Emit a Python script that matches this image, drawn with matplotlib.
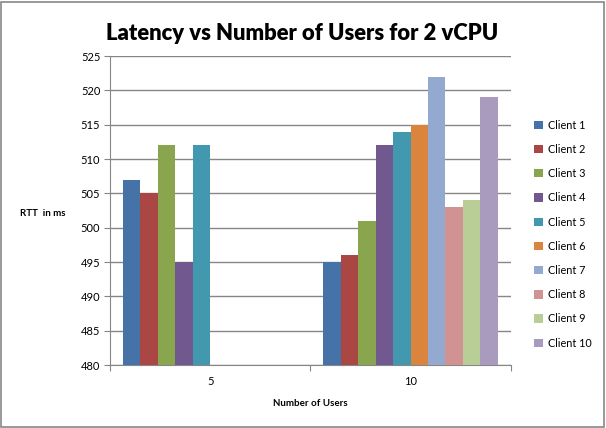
import numpy as np
import matplotlib
matplotlib.use("Agg")
import matplotlib.pyplot as plt
from matplotlib.patches import Rectangle, Patch

categories = ["5", "10"]
clients = [f"Client {i}" for i in range(1, 11)]
values = {
    "Client 1": [507, 495],
    "Client 2": [505, 496],
    "Client 3": [512, 501],
    "Client 4": [495, 512],
    "Client 5": [512, 514],
    "Client 6": [np.nan, 515],
    "Client 7": [np.nan, 522],
    "Client 8": [np.nan, 503],
    "Client 9": [np.nan, 504],
    "Client 10": [np.nan, 519],
}
colors = ["#4572A7", "#AA4643", "#89A54E", "#71588F", "#4198AF",
          "#DB843D", "#93A9CF", "#D19392", "#B9CD96", "#A99BBD"]

font = "Lato"
fig = plt.figure(figsize=(6.06, 4.28), dpi=100)
fig.patches.append(Rectangle((0.002, 0.002), 0.995, 0.994, transform=fig.transFigure,
                             fill=False, edgecolor="#888888", linewidth=1.2))
ax = fig.add_axes([0.1815, 0.147, 0.6615, 0.722])

x = np.arange(len(categories))
w = 1 / 11.5
for i, c in enumerate(clients):
    ax.bar(x + (i - 4.5) * w, values[c], width=w, bottom=0, color=colors[i],
           label=c, zorder=3, linewidth=0)

ax.set_ylim(480, 525)
ax.set_xlim(-0.5, 1.5)
ax.set_yticks(np.arange(480, 526, 5))
ax.set_xticks([-0.5, 0.5, 1.5], minor=False)
ax.set_xticklabels([])
ax.set_xticks(x, minor=True)
ax.set_xticklabels(categories, minor=True, fontsize=8, family=font)
ax.tick_params(axis="x", which="minor", length=0, pad=8)
ax.tick_params(axis="x", which="major", length=4, color="#868686", direction="out")
ax.tick_params(axis="y", length=4, color="#868686", labelsize=8, pad=3)
for lab in ax.get_yticklabels():
    lab.set_family(font)
ax.grid(axis="y", color="#868686", linewidth=1, zorder=0)
for s in ["top", "right"]:
    ax.spines[s].set_visible(False)
ax.spines["left"].set_color("#868686")
ax.spines["bottom"].set_color("#868686")

fig.text(0.4985, 0.922, "Latency vs Number of Users for 2 vCPU", ha="center", va="center",
         fontsize=15.8, fontweight="heavy", family=font)
fig.text(0.033, 0.502, "RTT  in ms", ha="left", va="center", fontsize=7, fontweight="bold", family=font)
fig.text(0.512, 0.058, "Number of Users", ha="center", va="center", fontsize=7,
         fontweight="bold", family=font)

handles = [Patch(facecolor=colors[i], label=c) for i, c in enumerate(clients)]
leg = fig.legend(handles=handles, loc="center left", bbox_to_anchor=(0.865, 0.453),
                 frameon=False, prop={"family": font, "size": 7.8}, handlelength=0.8,
                 handleheight=0.8, handletextpad=0.5, labelspacing=1.22)

fig.savefig("out.png", dpi=100)
